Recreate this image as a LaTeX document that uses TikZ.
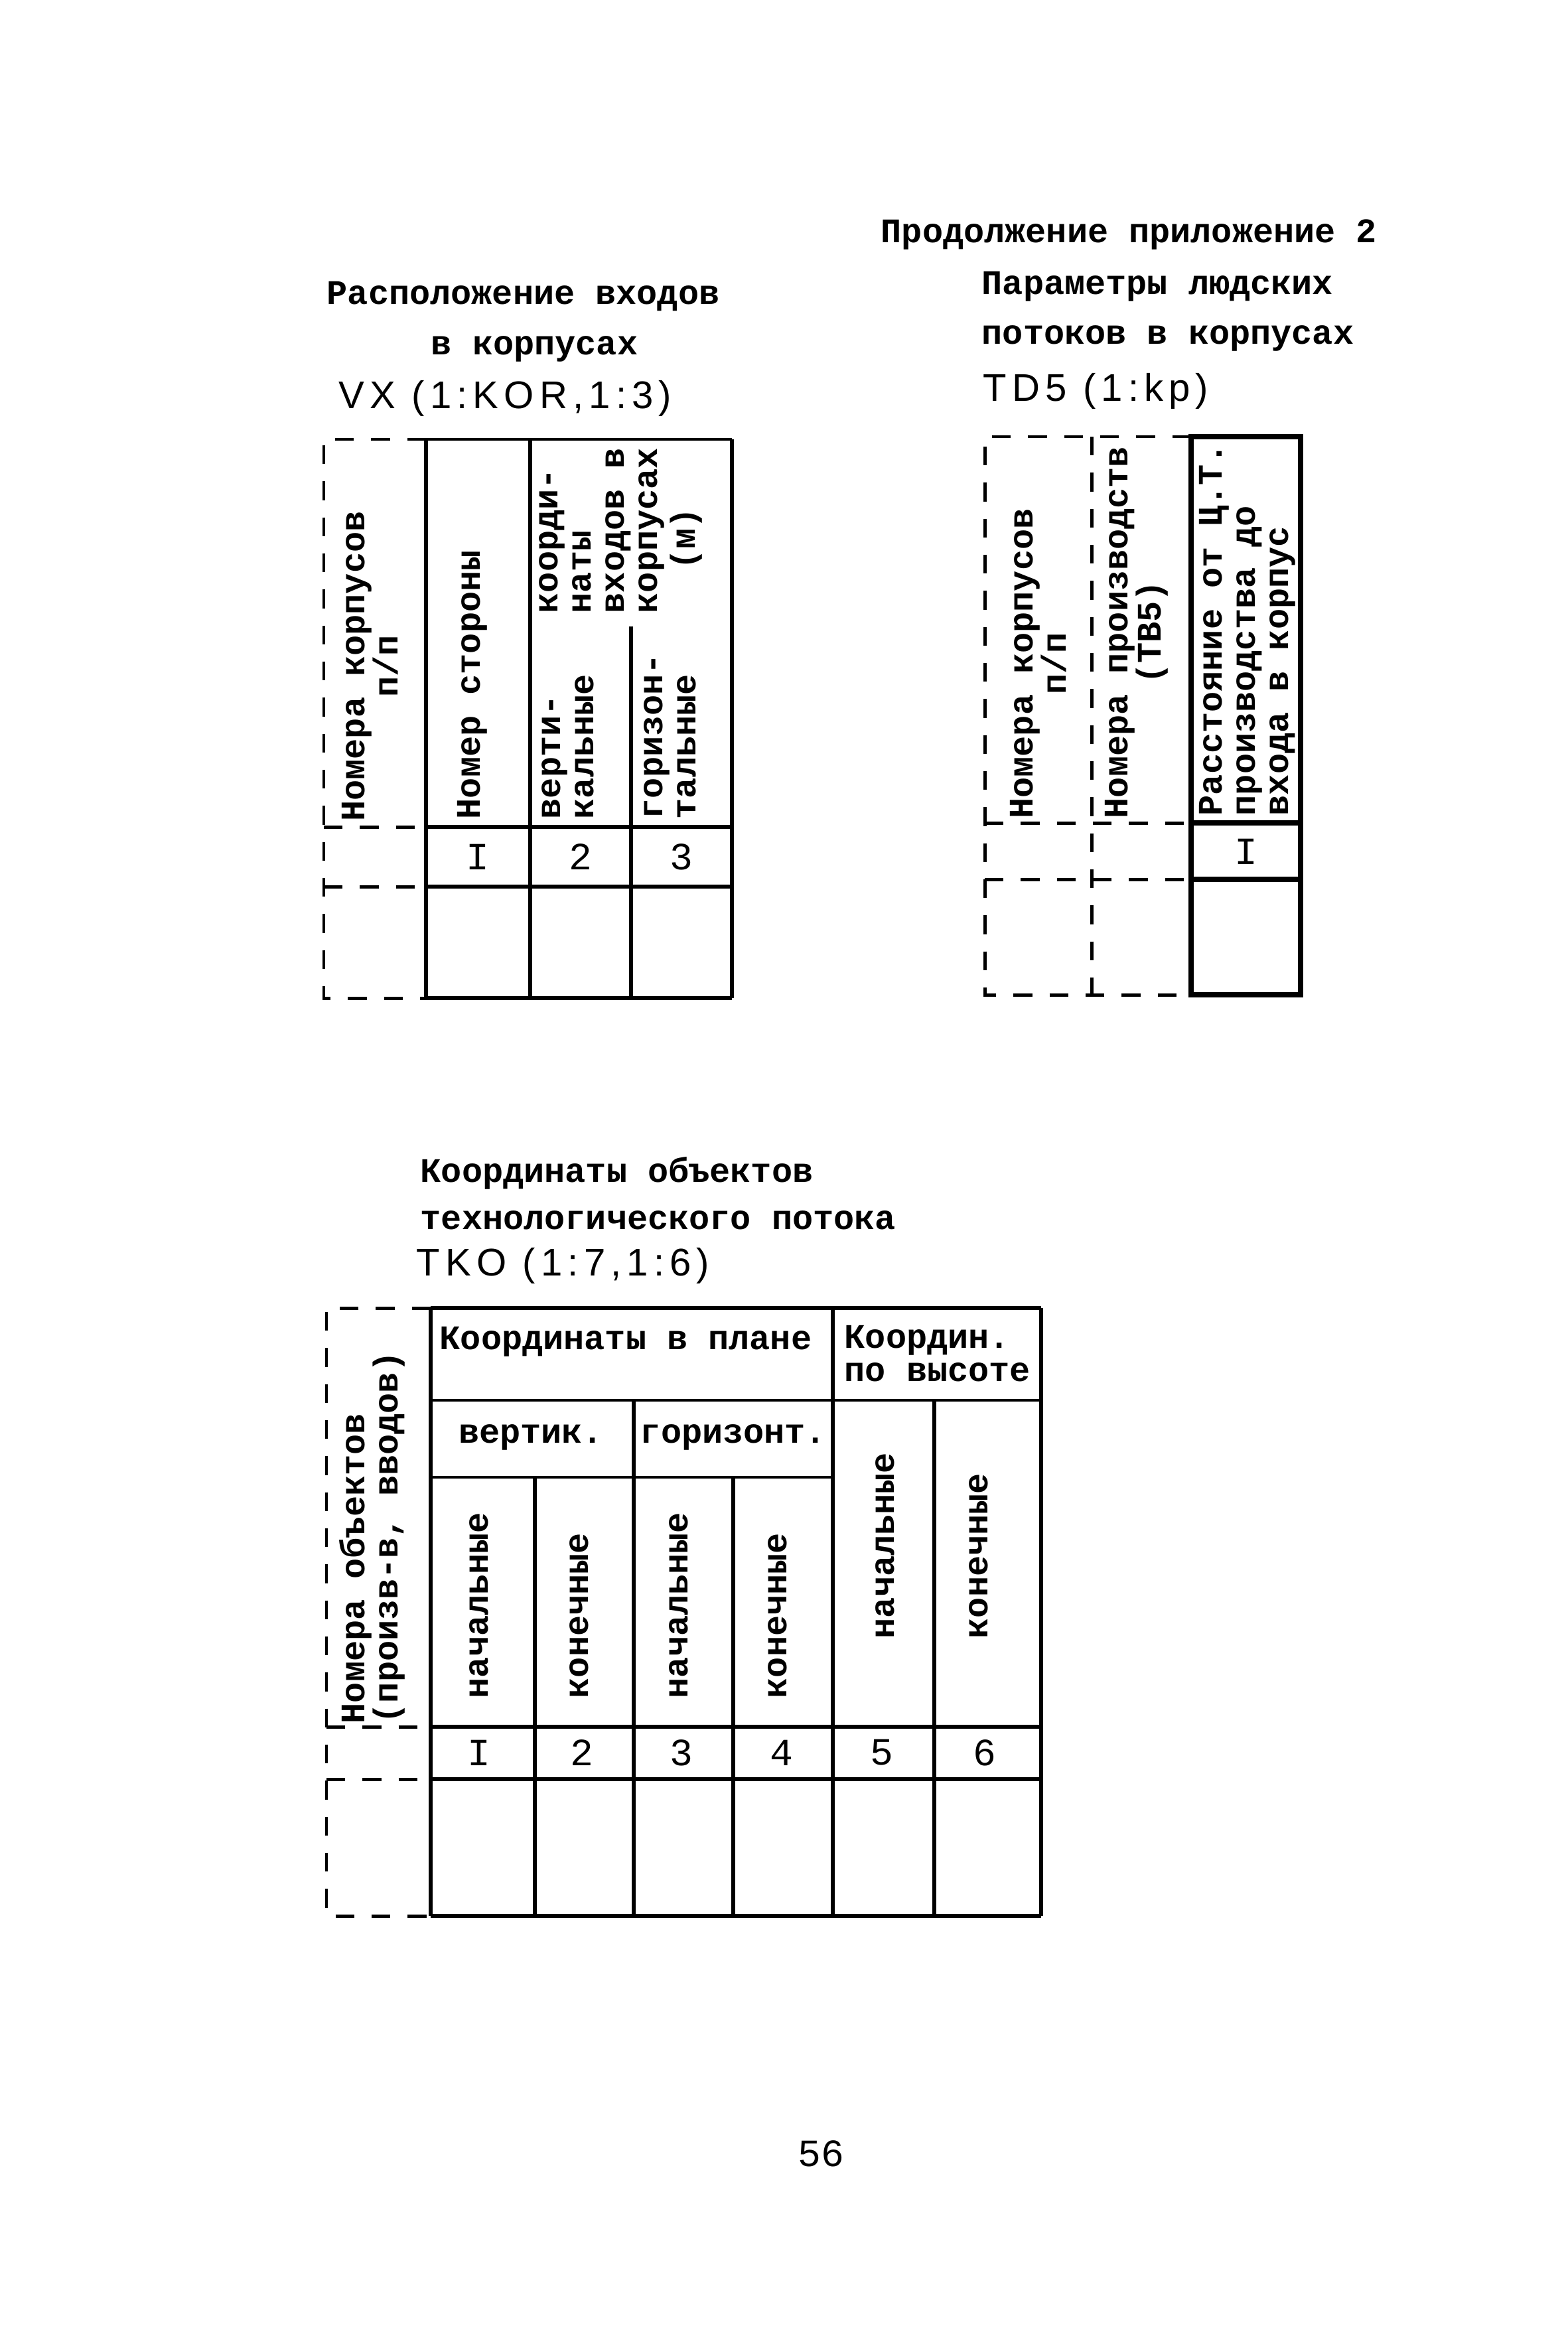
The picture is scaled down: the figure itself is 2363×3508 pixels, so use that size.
\documentclass[tikz,border=0pt]{standalone}
\usepackage{fontspec}
\setmainfont{Liberation Mono}
\newfontfamily\handwr[LetterSpace=14]{Liberation Sans}
\tikzset{
  gridline/.style={line width=1.3pt},
  thinrule/.style={line width=0.8pt},
  thickrule/.style={line width=1.8pt},
  dashrule/.style={line width=1.2pt, dash pattern=on 2.4mm off 2.2mm},
  txt/.style={inner sep=0pt, font=\fontsize{12.5}{12}\selectfont\bfseries},
  num/.style={inner sep=0pt, font=\fontsize{14}{14}\selectfont},
  head/.style={txt, rotate=90, align=left},
  hand/.style={inner sep=0pt, anchor=west, font=\fontsize{14}{14}\handwr},
}
\begin{document}
\begin{tikzpicture}[x=0.0846667mm, y=-0.0846667mm]
\useasboundingbox (0,0) rectangle (2363,3508);

\node[txt, anchor=west] (cont) at (1327,354) {Продолжение приложение 2};
\node[txt, anchor=west] (par1) at (1479,432) {Параметры людских};
\node[txt, anchor=west] (par2) at (1479,510) {потоков в корпусах};
\node[hand] (td5) at (1481,589) {TD5 (1:kp)};

\node[txt, anchor=west] (loc1) at (492,447) {Расположение входов};
\node[txt, anchor=west] (loc2) at (649,526) {в корпусах};
\node[hand] (vx) at (510,600) {VX (1:KOR,1:3)};

\node[txt, anchor=west] (obj1) at (633,1768) {Координаты объектов};
\node[txt, anchor=west] (obj2) at (633,1839) {технологического потока};
\node[hand] (tko) at (627,1907) {TKO (1:7,1:6)};

\draw[thinrule] (642,662) -- (1103,662);
\draw[gridline] (642,662) -- (642,1504) (799,662) -- (799,1504)
  (1103,662) -- (1103,1504) (951,944) -- (951,1504);
\draw[gridline] (642,1246) -- (1103,1246) (642,1336) -- (1103,1336)
  (642,1504) -- (1103,1504);
\draw[dashrule] (642,662) -- (488,662) -- (488,1504) -- (642,1504)
  (488,1246) -- (642,1246) (488,1336) -- (642,1336);

\node[head, align=center] (t1c1) at (558,1004) {Номера корпусов\\п/п};
\node[head, anchor=west] (t1c2) at (712,1235) {Номер стороны};
\node[head, anchor=west] (t1c3) at (907,925) {коорди-\\наты\\входов в\\корпусах};
\node[head] (t1m) at (1034,812) {(м)};
\node[head, anchor=west] (t1c4) at (856,1235) {верти-\\кальные};
\node[head, anchor=west] (t1c5) at (1010,1235) {горизон-\\тальные};
\node[num] (t1n1) at (720,1291) {I};
\node[num] (t1n2) at (875,1291) {2};
\node[num] (t1n3) at (1027,1291) {3};

\draw[dashrule] (1795,658) -- (1484,658) -- (1484,1499) -- (1795,1499)
  (1645,658) -- (1645,1499) (1484,1240) -- (1795,1240) (1484,1325) -- (1795,1325);
\draw[thickrule] (1795,658) rectangle (1960,1499)
  (1795,1240) -- (1960,1240) (1795,1325) -- (1960,1325);

\node[head, align=center] (t2c1) at (1565,1000) {Номера корпусов\\п/п};
\node[head, align=center] (t2c2) at (1713,953) {Номера производств\\(ТВ5)};
\node[head, anchor=west] (t2c3) at (1880,1230) {Расстояние от Ц.Т.\\производства до\\входа в корпус};
\node[num] (t2n1) at (1878,1283) {I};

\draw[gridline] (649,1971) -- (1569,1971);
\draw[gridline] (649,1971) -- (649,2887) (1255,1971) -- (1255,2887)
  (1569,1971) -- (1569,2887) (955,2110) -- (955,2887) (1408,2110) -- (1408,2887)
  (806,2226) -- (806,2887) (1105,2226) -- (1105,2887);
\draw[thinrule] (649,2110) -- (1569,2110) (649,2226) -- (1255,2226);
\draw[gridline] (649,2602) -- (1569,2602) (649,2681) -- (1569,2681)
  (649,2887) -- (1569,2887);
\draw[dashrule] (649,1971) -- (492,1971) -- (492,2887) -- (649,2887)
  (492,2602) -- (649,2602) (492,2681) -- (649,2681);

\node[head, anchor=west] (t3c1) at (561,2598) {Номера объектов\\(произв-в, вводов)};
\node[txt, anchor=west] (t3plan) at (662,2022) {Координаты в плане};
\node[txt, anchor=west, align=left] (t3high) at (1272,2040) {Координ.\\по высоте};
\node[txt] (t3vert) at (800,2166) {вертик.};
\node[txt] (t3hor) at (1105,2166) {горизонт.};
\node[head, anchor=west] (t3s1) at (722,2560) {начальные};
\node[head, anchor=west] (t3e1) at (873,2560) {конечные};
\node[head, anchor=west] (t3s2) at (1023,2560) {начальные};
\node[head, anchor=west] (t3e2) at (1172,2560) {конечные};
\node[head, anchor=west] (t3s3) at (1334,2470) {начальные};
\node[head, anchor=west] (t3e3) at (1475,2470) {конечные};
\node[num] (t3n1) at (722,2641) {I};
\node[num] (t3n2) at (877,2641) {2};
\node[num] (t3n3) at (1027,2641) {3};
\node[num] (t3n4) at (1178,2641) {4};
\node[num] (t3n5) at (1329,2641) {5};
\node[num] (t3n6) at (1484,2641) {6};

\node[num] (page) at (1237,3245) {56};
\end{tikzpicture}
\end{document}
